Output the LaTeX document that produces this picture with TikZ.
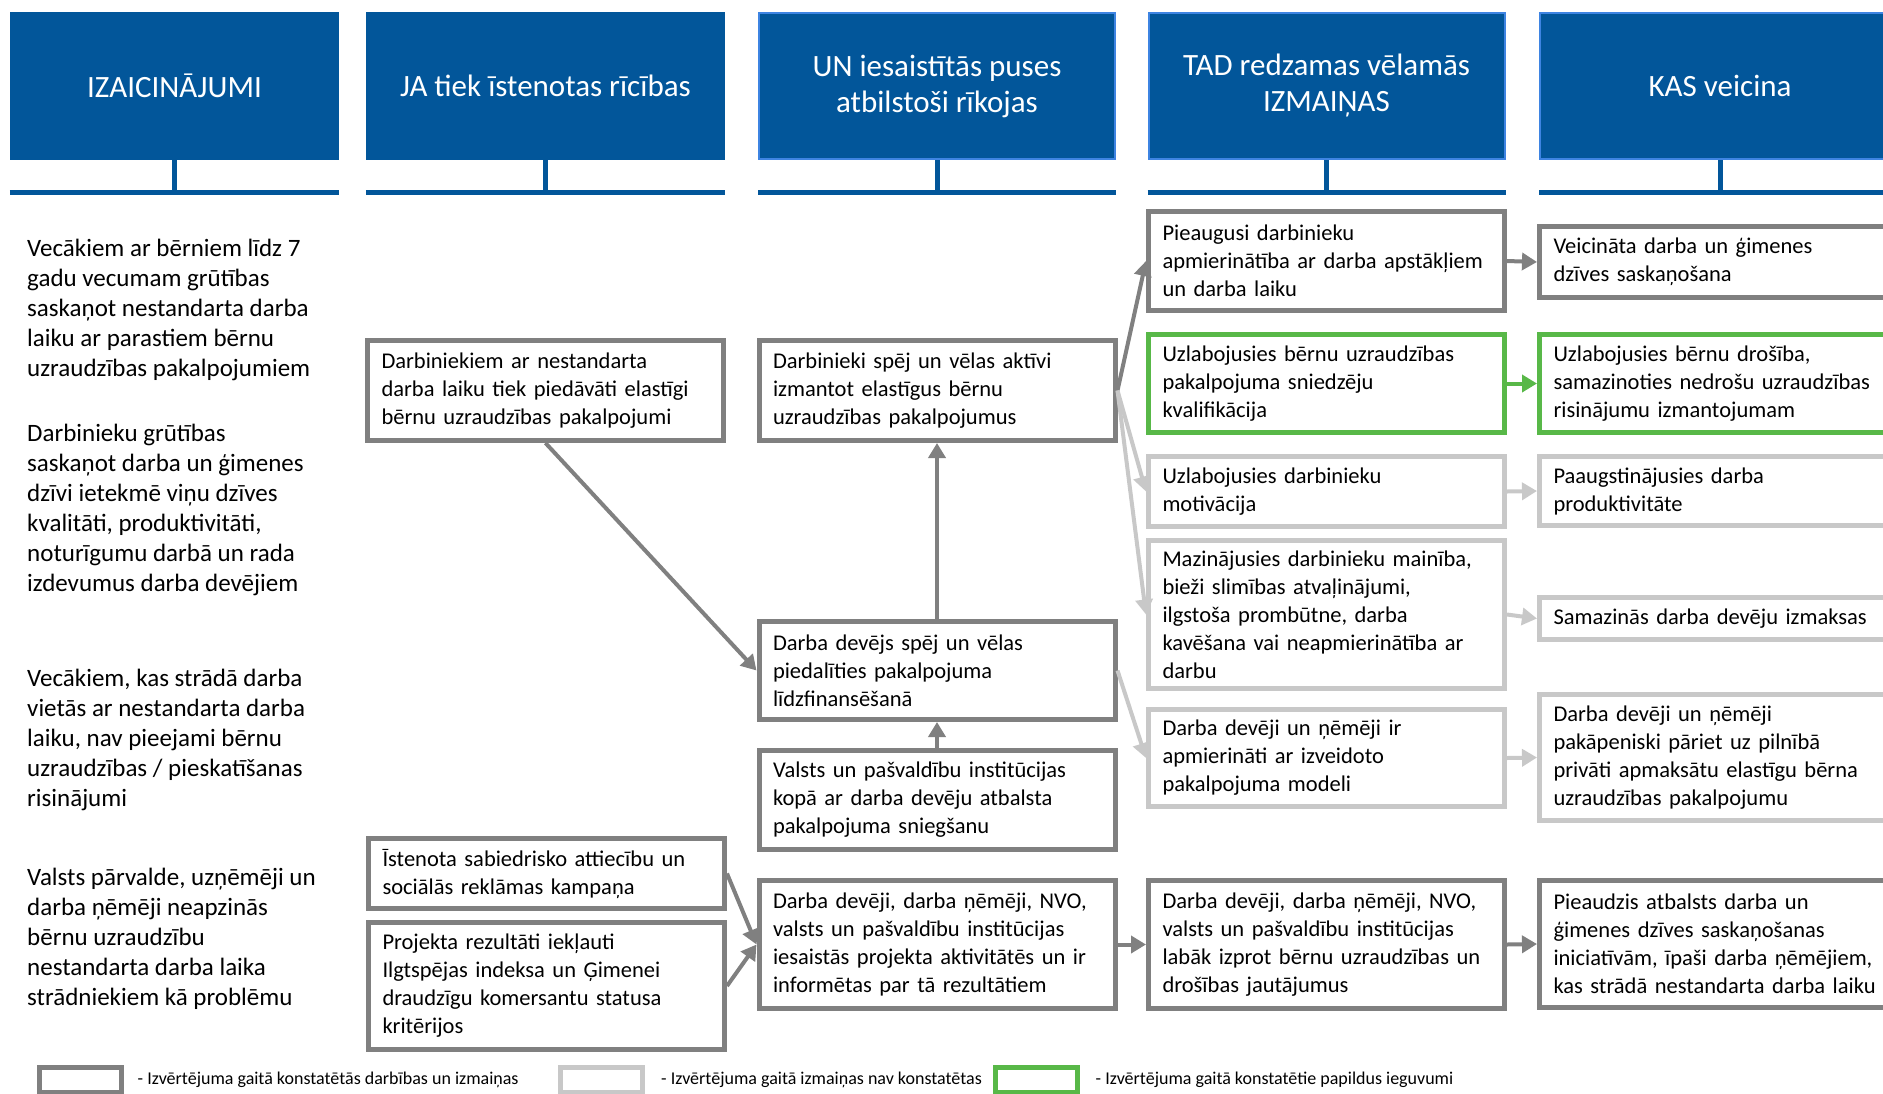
\documentclass[tikz,border=0pt]{standalone}
\usepackage{fontspec}
\setmainfont{Carlito}
\usetikzlibrary{arrows.meta,positioning}

\definecolor{hdblue}{RGB}{2,86,154}
\definecolor{hdedge}{RGB}{62,132,226}
\definecolor{dkgray}{RGB}{128,128,128}
\definecolor{ltgray}{RGB}{200,200,200}
\definecolor{okgreen}{RGB}{88,184,72}

\begin{document}
\begin{tikzpicture}[
			x = 1pt, y = -1pt,
			hdbox/.style = {fill = hdblue, text = white, align = center, inner sep = 0pt,
				minimum width = 329pt, minimum height = 148pt,
				font = \fontsize{31}{36}\selectfont},
			hdrim/.style = {hdbox, draw = hdedge, line width = 2pt,
				minimum width = 356pt, minimum height = 146pt},
			stem/.style = {draw = hdblue, line width = 5pt},
			box/.style = {draw = #1, line width = 5pt, fill = white, align = left,
				text width = 328pt, inner xsep = 14pt, inner ysep = 3pt,
				font = \fontsize{22.5}{28}\selectfont},
			lead/.style = {anchor = west, align = left, inner sep = 0pt,
				font = \fontsize{25}{30}\selectfont},
			legbox/.style = {draw = #1, line width = 5pt, minimum width = 82pt,
				minimum height = 25pt, inner sep = 0pt},
			legtext/.style = {inner sep = 0pt, font = \fontsize{18}{20}\selectfont},
			arr/.style = {draw = #1, line width = 4pt, -{Triangle[length = 15pt, width = 17pt]}}
		]

			\useasboundingbox (0,0) rectangle (1883,1093);
			\clip (0,0) rectangle (1883,1093);

			% headers
			\node[hdbox] (h1) at (174.5,86) {IZAICINĀJUMI};
			\node[hdbox, minimum width = 359pt] (h2) at (545.5,86) {JA tiek īstenotas rīcības};
			\node[hdrim] (h3) at (937,86) {UN iesaistītās puses\\atbilstoši rīkojas};
			\node[hdrim] (h4) at (1326.5,86) {TAD redzamas vēlamās\\IZMAIŅAS};
			\node[hdrim, minimum width = 360pt] (h5) at (1720,86) {KAS veicina};

			\foreach \h in {h1,h2,h3,h4,h5} {
				\draw[stem] (\h.south) -- (\h.south |- 0,192);
				\draw[stem] (\h.south west |- 0,192.5) -- (\h.south east |- 0,192.5);
			}

			% challenges
			\node[lead] (ct1) at (27,310) {Vecākiem ar bērniem līdz 7\\gadu vecumam grūtības\\saskaņot nestandarta darba\\laiku ar parastiem bērnu\\uzraudzības pakalpojumiem};
			\node[lead] (ct2) at (27,509.5) {Darbinieku grūtības\\saskaņot darba un ģimenes\\dzīvi ietekmē viņu dzīves\\kvalitāti, produktivitāti,\\noturīgumu darbā un rada\\izdevumus darba devējiem};
			\node[lead] (ct3) at (27,740) {Vecākiem, kas strādā darba\\vietās ar nestandarta darba\\laiku, nav pieejami bērnu\\uzraudzības / pieskatīšanas\\risinājumi};
			\node[lead] (ct4) at (27,938.5) {Valsts pārvalde, uzņēmēji un\\darba ņēmēji neapzinās\\bērnu uzraudzību\\nestandarta darba laika\\strādniekiem kā problēmu};

			% actions
			\node[box = dkgray, minimum height = 100pt] (b21) at (545.5,390.5) {Darbiniekiem ar nestandarta\\darba laiku tiek piedāvāti elastīgi\\bērnu uzraudzības pakalpojumi};
			\node[box = dkgray, minimum height = 70pt] (b22) at (546.5,873.5) {Īstenota sabiedrisko attiecību un\\sociālās reklāmas kampaņa};
			\node[box = dkgray, minimum height = 127pt] (b23) at (546.5,986) {Projekta rezultāti iekļauti\\Ilgtspējas indeksa un Ģimenei\\draudzīgu komersantu statusa\\kritērijos};

			% stakeholders
			\node[box = dkgray, minimum height = 100pt] (b31) at (937,390.5) {Darbinieki spēj un vēlas aktīvi\\izmantot elastīgus bērnu\\uzraudzības pakalpojumus};
			\node[box = dkgray, minimum height = 98pt] (b32) at (937,670.5) {Darba devējs spēj un vēlas\\piedalīties pakalpojuma\\līdzfinansēšanā};
			\node[box = dkgray, minimum height = 99pt] (b33) at (937,800) {Valsts un pašvaldību institūcijas\\kopā ar darba devēju atbalsta\\pakalpojuma sniegšanu};
			\node[box = dkgray, minimum height = 128pt] (b34) at (937,944.5) {Darba devēji, darba ņēmēji, NVO,\\valsts un pašvaldību institūcijas\\iesaistās projekta aktivitātēs un ir\\informētas par tā rezultātiem};

			% changes
			\node[box = dkgray, minimum height = 99pt] (b41) at (1326.5,261) {Pieaugusi darbinieku\\apmierinātība ar darba apstākļiem\\un darba laiku};
			\node[box = okgreen, minimum height = 98pt] (b42) at (1326.5,383.5) {Uzlabojusies bērnu uzraudzības\\pakalpojuma sniedzēju\\kvalifikācija};
			\node[box = ltgray, minimum height = 70pt] (b43) at (1326.5,491.5) {Uzlabojusies darbinieku\\motivācija};
			\node[box = ltgray, minimum height = 148pt] (b44) at (1326.5,614.5) {Mazinājusies darbinieku mainība,\\bieži slimības atvaļinājumi,\\ilgstoša prombūtne, darba\\kavēšana vai neapmierinātība ar\\darbu};
			\node[box = ltgray, minimum height = 97pt] (b45) at (1326.5,758) {Darba devēji un ņēmēji ir\\apmierināti ar izveidoto\\pakalpojuma modeli};
			\node[box = dkgray, minimum height = 128pt] (b46) at (1326.5,944.5) {Darba devēji, darba ņēmēji, NVO,\\valsts un pašvaldību institūcijas\\labāk izprot bērnu uzraudzības un\\drošības jautājumus};

			% impact
			\node[box = dkgray, minimum height = 71pt] (b51) at (1717.5,262) {Veicināta darba un ģimenes\\dzīves saskaņošana};
			\node[box = okgreen, minimum height = 98pt] (b52) at (1717.5,383.5) {Uzlabojusies bērnu drošība,\\samazinoties nedrošu uzraudzības\\risinājumu izmantojumam};
			\node[box = ltgray, minimum height = 69pt] (b53) at (1717.5,491) {Paaugstinājusies darba\\produktivitāte};
			\node[box = ltgray, minimum height = 42pt] (b54) at (1717.5,618.5) {Samazinās darba devēju izmaksas};
			\node[box = ltgray, minimum height = 126pt] (b55) at (1717.5,757.5) {Darba devēji un ņēmēji\\pakāpeniski pāriet uz pilnībā\\privāti apmaksātu elastīgu bērna\\uzraudzības pakalpojumu};
			\node[box = dkgray, minimum height = 127pt] (b56) at (1717.5,944) {Pieaudzis atbalsts darba un\\ģimenes dzīves saskaņošanas\\iniciatīvām, īpaši darba ņēmējiem,\\kas strādā nestandarta darba laiku};

			% links
			\draw[arr = dkgray] (b21.south) -- (b32.west);
			\draw[arr = dkgray] (b32.north) -- (b31.south);
			\draw[arr = dkgray] (b33.north) -- (b32.south);
			\draw[arr = dkgray] (b31.east) -- (b41.west);
			\draw[arr = ltgray] (b31.east) -- (b43.west);
			\draw[arr = ltgray] (b31.east) -- (b44.west);
			\draw[arr = ltgray] (b32.east) -- (b45.west);
			\draw[arr = dkgray] (b22.east) -- (b34.west);
			\draw[arr = dkgray] (b23.east) -- (b34.west);
			\draw[arr = dkgray] (b34.east) -- (b46.west);
			\draw[arr = dkgray] (b41.east) -- (b51.west);
			\draw[arr = okgreen] (b42.east) -- (b52.west);
			\draw[arr = ltgray] (b43.east) -- (b53.west);
			\draw[arr = ltgray] (b44.east) -- (b54.west);
			\draw[arr = ltgray] (b45.east) -- (b55.west);
			\draw[arr = dkgray] (b46.east) -- (b56.west);

			% legend
			\node[legbox = dkgray] (l1) at (80,1080) {};
			\node[legtext, right = 14pt of l1] (t1) {- Izvērtējuma gaitā konstatētās darbības un izmaiņas};
			\node[legbox = ltgray] (l2) at (601.5,1080) {};
			\node[legtext, right = 16pt of l2] (t2) {- Izvērtējuma gaitā izmaiņas nav konstatētas};
			\node[legbox = okgreen] (l3) at (1036,1080) {};
			\node[legtext, right = 16pt of l3] (t3) {- Izvērtējuma gaitā konstatētie papildus ieguvumi};

		\end{tikzpicture}
\end{document}
